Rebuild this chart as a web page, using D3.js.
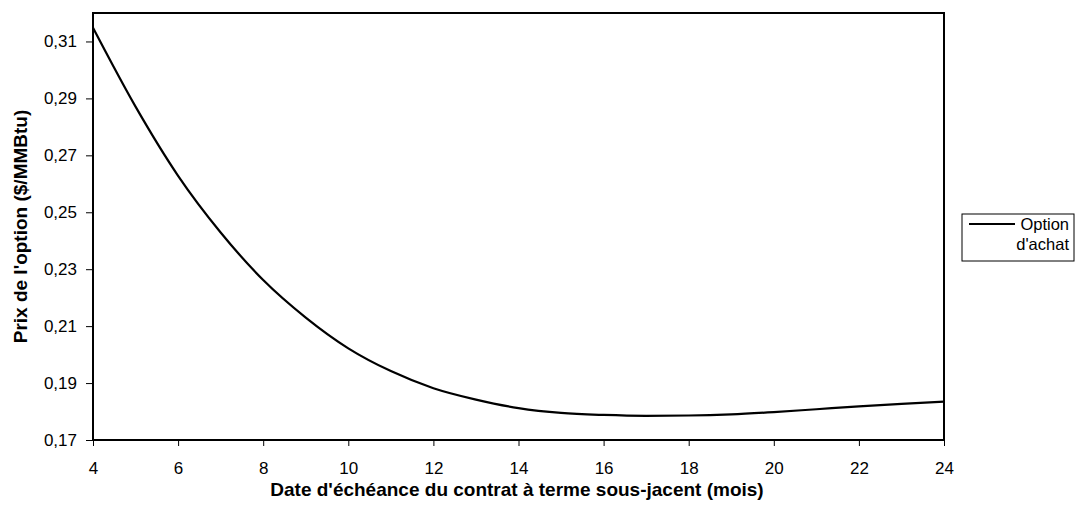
<!DOCTYPE html>
<html>
<head>
<meta charset="utf-8">
<script src="https://cdn.jsdelivr.net/npm/d3@7"></script>
<style>
  html, body { margin: 0; padding: 0; background: #fff; }
  svg { display: block; font-family: "Liberation Sans", Arial, sans-serif; }
</style>
</head>
<body>
<svg id="chart" width="1079" height="514"></svg>
<script>
// Maturity of the underlying futures contract (months)
const months = [4, 5, 6, 7, 8, 9, 10, 11, 12, 13, 14, 15, 16, 17, 18, 19, 20, 21, 22, 23, 24];
// Call option price ($/MMBtu)
const callPrice = [0.3148, 0.2871, 0.2628, 0.2429, 0.2262, 0.2130, 0.2022, 0.1942, 0.1882,
                   0.1842, 0.1812, 0.1795, 0.1788, 0.1785, 0.1786, 0.1790, 0.1798, 0.1808,
                   0.1818, 0.1827, 0.1835];
const xTicks = [4, 6, 8, 10, 12, 14, 16, 18, 20, 22, 24];
const yTicks = [0.17, 0.19, 0.21, 0.23, 0.25, 0.27, 0.29, 0.31];
const seriesName = ["Option", "d'achat"];
const xTitle = "Date d'échéance du contrat à terme sous-jacent (mois)";
const yTitle = "Prix de l'option ($/MMBtu)";

const svg = d3.select("#chart");
const plot = { left: 93, right: 944, top: 13, bottom: 440 };
const tickFont = 17;
const titleFont = 19;

const x = d3.scaleLinear().domain([4, 24]).range([plot.left, plot.right]);
const y = d3.scaleLinear().domain([0.17, 0.32]).range([plot.bottom, plot.top]);

const fmt = v => d3.format(".2f")(v).replace(".", ",");

// Y axis
const yAxis = svg.append("g")
  .attr("transform", `translate(${plot.left},0)`)
  .call(d3.axisLeft(y).tickValues(yTicks).tickFormat(fmt).tickSize(7).tickPadding(9));
yAxis.select(".domain").remove();
yAxis.selectAll("line").attr("stroke", "#000");
yAxis.selectAll("text").attr("font-size", tickFont).attr("fill", "#000")
  .attr("font-family", "Liberation Sans, Arial, sans-serif");

// X axis
const xAxis = svg.append("g")
  .attr("transform", `translate(0,${plot.bottom})`)
  .call(d3.axisBottom(x).tickValues(xTicks).tickFormat(d3.format("d")).tickSize(6).tickPadding(16));
xAxis.select(".domain").remove();
xAxis.selectAll("line").attr("stroke", "#000");
xAxis.selectAll("text").attr("font-size", tickFont).attr("fill", "#000")
  .attr("font-family", "Liberation Sans, Arial, sans-serif");

// Plot frame
svg.append("rect")
  .attr("x", plot.left).attr("y", plot.top)
  .attr("width", plot.right - plot.left).attr("height", plot.bottom - plot.top)
  .attr("fill", "none").attr("stroke", "#000").attr("stroke-width", 2);

// Price curve
const line = d3.line()
  .x((d, i) => x(months[i]))
  .y(d => y(d))
  .curve(d3.curveMonotoneX);
svg.append("path")
  .datum(callPrice)
  .attr("d", line)
  .attr("fill", "none")
  .attr("stroke", "#000")
  .attr("stroke-width", 2.2);

// Axis titles
svg.append("text")
  .attr("x", 517).attr("y", 496)
  .attr("text-anchor", "middle")
  .attr("font-size", titleFont).attr("font-weight", "bold")
  .text(xTitle);
svg.append("text")
  .attr("transform", `translate(27,${(plot.top + plot.bottom) / 2}) rotate(-90)`)
  .attr("text-anchor", "middle")
  .attr("font-size", titleFont).attr("font-weight", "bold")
  .text(yTitle);

// Legend
const lg = svg.append("g").attr("transform", "translate(962,214)");
lg.append("rect").attr("x", 0).attr("y", 0).attr("width", 112).attr("height", 47)
  .attr("fill", "#fff").attr("stroke", "#000").attr("stroke-width", 1);
lg.append("line").attr("x1", 7).attr("x2", 53).attr("y1", 10).attr("y2", 10)
  .attr("stroke", "#000").attr("stroke-width", 2.2);
lg.selectAll("text.leg").data(seriesName).join("text")
  .attr("class", "leg")
  .attr("x", 107).attr("y", (d, i) => 16 + i * 19.5)
  .attr("text-anchor", "end")
  .attr("font-size", 16.5)
  .text(d => d);
</script>
</body>
</html>
